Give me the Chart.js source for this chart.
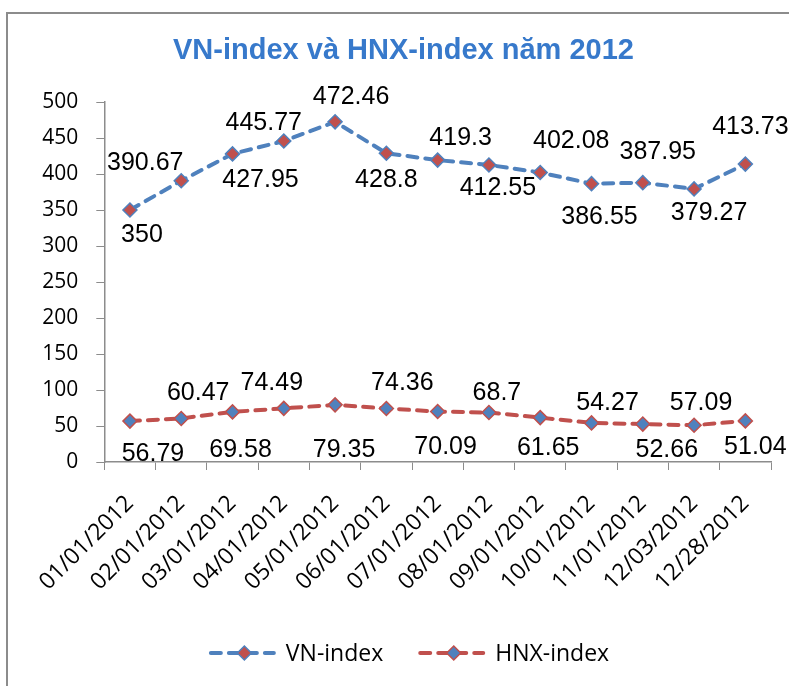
<!DOCTYPE html>
<html><head><meta charset="utf-8">
<script src="https://cdn.jsdelivr.net/npm/chart.js@4/dist/chart.umd.min.js"></script>
<style>
html,body{margin:0;padding:0;background:#fff;overflow:hidden}
#wrap{position:relative;width:789px;height:686px}
#frame{position:absolute;left:6px;top:12px;width:820px;height:720px;border:2px solid #8c8c8c;box-sizing:border-box}
canvas{position:absolute;left:0;top:0}
</style></head>
<body><div id="wrap"><div id="frame"></div><canvas id="c" width="789" height="686"></canvas></div>
<script>
const categories = ['01/01/2012','02/01/2012','03/01/2012','04/01/2012','05/01/2012','06/01/2012','07/01/2012','08/01/2012','09/01/2012','10/01/2012','11/01/2012','12/03/2012','12/28/2012'];
const vnIndex = [350, 390.67, 427.95, 445.77, 472.46, 428.8, 419.3, 412.55, 402.08, 386.55, 387.95, 379.27, 413.73];
const hnxIndex = [56.79, 60.47, 69.58, 74.49, 79.35, 74.36, 70.09, 68.7, 61.65, 54.27, 52.66, 51.04, 57.09];
const vnLabelText = ['350','390.67','427.95','445.77','472.46','428.8','419.3','412.55','402.08','386.55','387.95','379.27','413.73'];
const hnxLabelText = ['56.79','60.47','69.58','74.49','79.35','74.36','70.09','68.7','61.65','54.27','52.66','57.09','51.04'];
const yTicks = [0,50,100,150,200,250,300,350,400,450,500];
const seriesNames = ['VN-index','HNX-index'];
const titleText = 'VN-index và HNX-index năm 2012';

// label placement relative to each point (styling only)
const vnLabelOffset = [[12,25],[-36,-18],[28,26],[-20,-18],[16,-25],[0,27],[23,-22],[9,23],[31,-31],[8,33],[15,-31],[15,24],[5,-37]];
const hnxLabelOffset = [[23,33],[17,-25],[8,38],[-12,-25],[9,45],[16,-25],[8,36],[8,-19],[8,30],[16,-20],[24,26],[7,-22],[10,26]];

const BLUE = '#4F81BD', RED = '#C0504D', AXIS = '#8c8c8c';

const labelPlugin = {
  id: 'pointLabels',
  afterDatasetsDraw(chart) {
    const ctx = chart.ctx;
    const sets = [[vnLabelText, vnLabelOffset], [hnxLabelText, hnxLabelOffset]];
    ctx.save();
    ctx.font = '25px "Liberation Sans", Arial, sans-serif';
    ctx.fillStyle = '#000';
    ctx.textAlign = 'center';
    ctx.textBaseline = 'middle';
    sets.forEach(([texts, offs], di) => {
      const meta = chart.getDatasetMeta(di);
      meta.data.forEach((pt, i) => {
        ctx.fillText(texts[i], pt.x + offs[i][0], pt.y + offs[i][1]);
      });
    });
    ctx.restore();
  }
};

const legendPlugin = {
  id: 'customLegend',
  afterDraw(chart) {
    const ctx = chart.ctx;
    ctx.save();
    ctx.font = '23px "Open Sans", sans-serif';
    const sampleW = 67, gapText = 10, gapItem = 35, y = 653;
    const items = chart.data.datasets.map(ds => ({ds, w: ctx.measureText(ds.label).width}));
    let total = 0;
    items.forEach((it, i) => { total += sampleW + gapText + it.w + (i ? gapItem : 0); });
    let x = 409 - total / 2;
    items.forEach((it, i) => {
      if (i) x += gapItem;
      const ds = it.ds;
      ctx.strokeStyle = ds.borderColor;
      ctx.lineWidth = ds.borderWidth;
      ctx.lineCap = 'round';
      ctx.setLineDash(ds.borderDash);
      ctx.beginPath();
      ctx.moveTo(x + 2, y);
      ctx.lineTo(x + sampleW - 2, y);
      ctx.stroke();
      ctx.setLineDash([]);
      const cx = x + sampleW / 2 + 2, r = ds.pointRadius;
      ctx.beginPath();
      ctx.moveTo(cx, y - r); ctx.lineTo(cx + r, y); ctx.lineTo(cx, y + r); ctx.lineTo(cx - r, y); ctx.closePath();
      ctx.fillStyle = ds.pointBackgroundColor;
      ctx.fill();
      ctx.lineWidth = ds.pointBorderWidth;
      ctx.strokeStyle = ds.pointBorderColor;
      ctx.stroke();
      x += sampleW + gapText;
      ctx.fillStyle = '#000';
      ctx.textAlign = 'left';
      ctx.textBaseline = 'middle';
      ctx.fillText(ds.label, x, y + 1);
      x += it.w;
    });
    ctx.restore();
  }
};

new Chart(document.getElementById('c'), {
  type: 'line',
  data: {
    labels: categories,
    datasets: [
      {label: seriesNames[0], data: vnIndex, borderColor: BLUE, borderWidth: 4, borderDash: [10, 8], borderCapStyle: 'round',
       pointStyle: 'rectRot', pointRadius: 7, pointBackgroundColor: RED, pointBorderColor: BLUE, pointBorderWidth: 1.5, tension: 0, fill: false},
      {label: seriesNames[1], data: hnxIndex, borderColor: RED, borderWidth: 4, borderDash: [10, 8], borderCapStyle: 'round',
       pointStyle: 'rectRot', pointRadius: 7, pointBackgroundColor: BLUE, pointBorderColor: RED, pointBorderWidth: 1.5, tension: 0, fill: false}
    ]
  },
  options: {
    responsive: false, animation: false, devicePixelRatio: 1,
    layout: {padding: {left: 36, right: 18, top: 0, bottom: 70}},
    plugins: {
      legend: {display: false},
      tooltip: {enabled: false},
      title: {display: true, text: titleText, color: '#3779CB',
              font: {family: '"Liberation Sans", Arial, sans-serif', size: 29, weight: 'bold', lineHeight: 1.2},
              padding: {top: 33.6, bottom: 33.6}}
    },
    scales: {
      x: {
        type: 'category', offset: true,
        grid: {display: true, drawOnChartArea: false, drawTicks: true, tickLength: 8, color: AXIS, offset: true},
        border: {color: AXIS, width: 1.5},
        ticks: {minRotation: 45, maxRotation: 45, autoSkip: false, color: '#000', padding: 20,
                font: {family: '"Open Sans", sans-serif', size: 23}},
        afterFit(s) { s.height = 154; }
      },
      y: {
        min: 0, max: 500,
        afterBuildTicks(s) { s.ticks = yTicks.map(v => ({value: v})); },
        grid: {display: true, drawOnChartArea: false, drawTicks: true, tickLength: 8, color: AXIS},
        border: {color: AXIS, width: 1.5},
        ticks: {color: '#000', padding: 18, font: {family: '"Open Sans", sans-serif', size: 21}},
        afterFit(s) { s.width = 68.3; }
      }
    }
  },
  plugins: [labelPlugin, legendPlugin]
});
</script>
</body></html>
